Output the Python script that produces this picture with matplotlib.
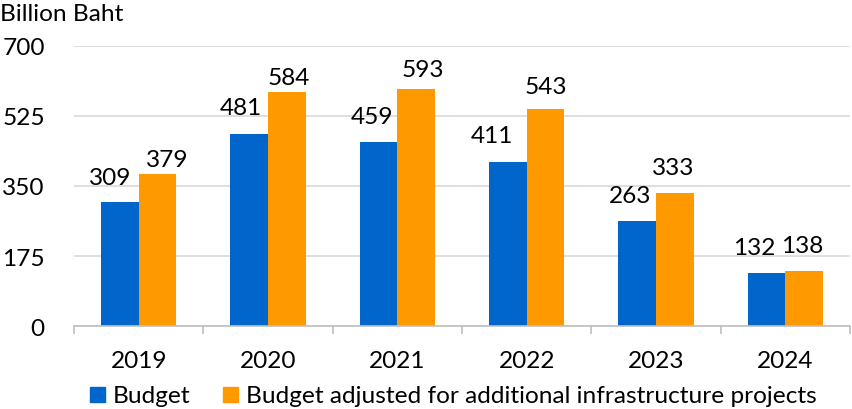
import matplotlib
matplotlib.use("Agg")
import matplotlib.pyplot as plt
from matplotlib.patches import Rectangle
import numpy as np

years = ["2019", "2020", "2021", "2022", "2023", "2024"]
budget = [309, 481, 459, 411, 263, 132]
budget_adjusted = [379, 584, 593, 543, 333, 138]
y_ticks = [0, 175, 350, 525, 700]
series_names = ["Budget", "Budget adjusted for additional infrastructure projects"]
unit_label = "Billion Baht"

BLUE = "#0066CC"
ORANGE = "#FF9900"
GRID = "#D9D9D9"
AXIS = "#BFBFBF"
FONT = "Lato"
FS = 17.6

# label placement (pixels): horizontal shift and gap above bar top
blue_dx = [-10, -8, -7, -16, -7, -12]
blue_gap = [18, 20, 19, 20, 19, 19]
orange_dx = [10, 2, 7, 0, -2, -2]
orange_gap = [8, 8, 13, 16, 19, 19]

W, H = 852, 410
fig = plt.figure(figsize=(W / 100, H / 100), dpi=100)
plt.rcParams["font.family"] = [FONT, "DejaVu Sans"]

left, right, top, bottom = 74, 850, 47, 327
ax = fig.add_axes([left / W, 1 - bottom / H, (right - left) / W, (bottom - top) / H])

x = np.arange(len(years))
bw = 0.29
ax.bar(x - bw / 2, budget, width=bw, color=BLUE, zorder=3)
ax.bar(x + bw / 2, budget_adjusted, width=bw, color=ORANGE, zorder=3)

ax.set_xlim(-0.5, len(years) - 0.5)
ax.set_ylim(0, 700)
ax.set_yticks(y_ticks)
ax.set_yticklabels([str(v) for v in y_ticks], fontsize=FS, color="#000000")
ax.yaxis.grid(True, color=GRID, linewidth=1.2, zorder=0)
ax.tick_params(axis="y", length=0, pad=21)

ax.set_xticks(x)
ax.set_xticklabels(years, fontsize=FS)
ax.set_xticks(np.arange(-0.5, len(years) + 0.5, 1), minor=True)
ax.tick_params(axis="x", which="major", length=0, pad=17)
ax.tick_params(axis="x", which="minor", length=6, width=1.2, color=AXIS)

for s in ["top", "right", "left"]:
    ax.spines[s].set_visible(False)
ax.spines["bottom"].set_color(AXIS)
ax.spines["bottom"].set_linewidth(1.2)
ax.spines["bottom"].set_zorder(4)

for i, v in enumerate(budget):
    ax.annotate(str(v), (x[i] - bw / 2, v), xytext=(blue_dx[i], blue_gap[i]),
                textcoords="offset pixels", ha="center", va="baseline", fontsize=FS)
for i, v in enumerate(budget_adjusted):
    ax.annotate(str(v), (x[i] + bw / 2, v), xytext=(orange_dx[i], orange_gap[i]),
                textcoords="offset pixels", ha="center", va="baseline", fontsize=FS)

fig.text(0 / W, 1 - 21 / H, unit_label, fontsize=FS, ha="left", va="baseline")

# legend
def px_rect(x0, y0, w, h, color):
    fig.patches.append(Rectangle((x0 / W, 1 - (y0 + h) / H), w / W, h / H,
                                 transform=fig.transFigure, color=color))

px_rect(90, 388, 15, 15, BLUE)
fig.text(113 / W, 1 - 403 / H, series_names[0], fontsize=FS, ha="left", va="baseline")
px_rect(223, 388, 15, 15, ORANGE)
fig.text(246 / W, 1 - 403 / H, series_names[1], fontsize=FS, ha="left", va="baseline")

fig.savefig("out.png", dpi=100)
